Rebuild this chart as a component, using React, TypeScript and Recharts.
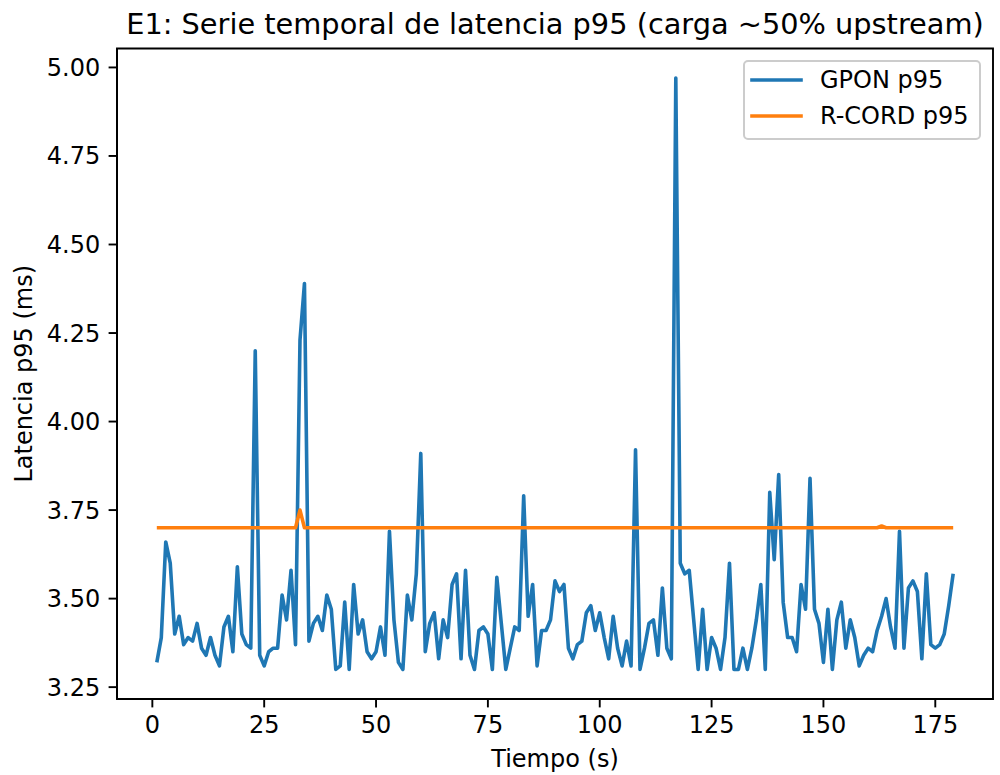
import React from 'react';
import { LineChart, Line, XAxis, YAxis, Legend, ReferenceArea } from 'recharts';

const TIME_S = [
  1, 2, 3, 4, 5, 6, 7, 8, 9, 10,
  11, 12, 13, 14, 15, 16, 17, 18, 19, 20,
  21, 22, 23, 24, 25, 26, 27, 28, 29, 30,
  31, 32, 33, 34, 35, 36, 37, 38, 39, 40,
  41, 42, 43, 44, 45, 46, 47, 48, 49, 50,
  51, 52, 53, 54, 55, 56, 57, 58, 59, 60,
  61, 62, 63, 64, 65, 66, 67, 68, 69, 70,
  71, 72, 73, 74, 75, 76, 77, 78, 79, 80,
  81, 82, 83, 84, 85, 86, 87, 88, 89, 90,
  91, 92, 93, 94, 95, 96, 97, 98, 99, 100,
  101, 102, 103, 104, 105, 106, 107, 108, 109, 110,
  111, 112, 113, 114, 115, 116, 117, 118, 119, 120,
  121, 122, 123, 124, 125, 126, 127, 128, 129, 130,
  131, 132, 133, 134, 135, 136, 137, 138, 139, 140,
  141, 142, 143, 144, 145, 146, 147, 148, 149, 150,
  151, 152, 153, 154, 155, 156, 157, 158, 159, 160,
  161, 162, 163, 164, 165, 166, 167, 168, 169, 170,
  171, 172, 173, 174, 175, 176, 177, 178, 179,
];

const GPON_P95 = [
  3.32, 3.39, 3.66, 3.60, 3.40, 3.45, 3.37, 3.39, 3.38, 3.43,
  3.36, 3.34, 3.39, 3.34, 3.31, 3.42, 3.45, 3.35, 3.59, 3.40,
  3.37, 3.36, 4.20, 3.34, 3.31, 3.35, 3.36, 3.36, 3.51, 3.44,
  3.58, 3.37, 4.23, 4.39, 3.38, 3.43, 3.45, 3.41, 3.51, 3.47,
  3.30, 3.31, 3.49, 3.30, 3.54, 3.40, 3.44, 3.35, 3.33, 3.35,
  3.42, 3.34, 3.69, 3.44, 3.32, 3.30, 3.51, 3.44, 3.57, 3.91,
  3.35, 3.43, 3.46, 3.33, 3.44, 3.39, 3.54, 3.57, 3.33, 3.58,
  3.34, 3.30, 3.41, 3.42, 3.40, 3.30, 3.56, 3.43, 3.30, 3.36,
  3.42, 3.41, 3.79, 3.45, 3.54, 3.31, 3.41, 3.41, 3.44, 3.55,
  3.52, 3.54, 3.36, 3.33, 3.37, 3.38, 3.46, 3.48, 3.41, 3.46,
  3.39, 3.33, 3.45, 3.36, 3.31, 3.38, 3.31, 3.92, 3.30, 3.36,
  3.43, 3.44, 3.34, 3.53, 3.36, 3.33, 4.97, 3.60, 3.57, 3.58,
  3.44, 3.30, 3.47, 3.30, 3.39, 3.36, 3.30, 3.39, 3.60, 3.30,
  3.30, 3.36, 3.30, 3.36, 3.44, 3.54, 3.30, 3.80, 3.61, 3.85,
  3.49, 3.39, 3.39, 3.35, 3.54, 3.47, 3.84, 3.47, 3.43, 3.32,
  3.47, 3.30, 3.44, 3.49, 3.36, 3.44, 3.39, 3.31, 3.34, 3.36,
  3.35, 3.41, 3.45, 3.50, 3.42, 3.36, 3.69, 3.36, 3.53, 3.55,
  3.52, 3.33, 3.57, 3.37, 3.36, 3.37, 3.40, 3.48, 3.57,
];

const RCORD_P95 = [
  3.70, 3.70, 3.70, 3.70, 3.70, 3.70, 3.70, 3.70, 3.70, 3.70,
  3.70, 3.70, 3.70, 3.70, 3.70, 3.70, 3.70, 3.70, 3.70, 3.70,
  3.70, 3.70, 3.70, 3.70, 3.70, 3.70, 3.70, 3.70, 3.70, 3.70,
  3.70, 3.70, 3.75, 3.70, 3.70, 3.70, 3.70, 3.70, 3.70, 3.70,
  3.70, 3.70, 3.70, 3.70, 3.70, 3.70, 3.70, 3.70, 3.70, 3.70,
  3.70, 3.70, 3.70, 3.70, 3.70, 3.70, 3.70, 3.70, 3.70, 3.70,
  3.70, 3.70, 3.70, 3.70, 3.70, 3.70, 3.70, 3.70, 3.70, 3.70,
  3.70, 3.70, 3.70, 3.70, 3.70, 3.70, 3.70, 3.70, 3.70, 3.70,
  3.70, 3.70, 3.70, 3.70, 3.70, 3.70, 3.70, 3.70, 3.70, 3.70,
  3.70, 3.70, 3.70, 3.70, 3.70, 3.70, 3.70, 3.70, 3.70, 3.70,
  3.70, 3.70, 3.70, 3.70, 3.70, 3.70, 3.70, 3.70, 3.70, 3.70,
  3.70, 3.70, 3.70, 3.70, 3.70, 3.70, 3.70, 3.70, 3.70, 3.70,
  3.70, 3.70, 3.70, 3.70, 3.70, 3.70, 3.70, 3.70, 3.70, 3.70,
  3.70, 3.70, 3.70, 3.70, 3.70, 3.70, 3.70, 3.70, 3.70, 3.70,
  3.70, 3.70, 3.70, 3.70, 3.70, 3.70, 3.70, 3.70, 3.70, 3.70,
  3.70, 3.70, 3.70, 3.70, 3.70, 3.70, 3.70, 3.70, 3.70, 3.70,
  3.70, 3.70, 3.705, 3.70, 3.70, 3.70, 3.70, 3.70, 3.70, 3.70,
  3.70, 3.70, 3.70, 3.70, 3.70, 3.70, 3.70, 3.70, 3.70,
];

const X_TICKS = [0, 25, 50, 75, 100, 125, 150, 175];
const Y_TICKS = [3.25, 3.5, 3.75, 4.0, 4.25, 4.5, 4.75, 5.0];
const X_DOMAIN = [-7.9, 187.9];
const Y_DOMAIN = [3.2165, 5.0535];

const TITLE = 'E1: Serie temporal de latencia p95 (carga ~50% upstream)';
const X_LABEL = 'Tiempo (s)';
const Y_LABEL = 'Latencia p95 (ms)';
const GPON_NAME = 'GPON p95';
const RCORD_NAME = 'R-CORD p95';

const FONT = '"DejaVu Sans", sans-serif';
const BLUE = '#1f77b4';
const ORANGE = '#ff7f0e';

const data = TIME_S.map((t, i) => ({ t, gpon: GPON_P95[i], rcord: RCORD_P95[i] }));

const renderLegend = (props: any) => {
  const items = props.payload || [];
  return (
    <div
      style={{
        position: 'relative',
        width: 238,
        height: 80,
        boxSizing: 'border-box',
        border: '2px solid #cccccc',
        borderRadius: 5,
        background: 'rgba(255,255,255,0.8)',
      }}
    >
      <svg width={238} height={80} style={{ position: 'absolute', left: -2, top: -2 }}>
        {items.map((it: any, i: number) => (
          <g key={i}>
            <line
              x1={9}
              x2={58}
              y1={20 + i * 36}
              y2={20 + i * 36}
              stroke={it.color}
              strokeWidth={3.6}
              strokeLinecap="square"
            />
            <text
              x={77}
              y={20 + i * 36}
              dominantBaseline="central"
              fontFamily={FONT}
              fontSize={24}
              fill="#000"
            >
              {it.value}
            </text>
          </g>
        ))}
      </svg>
    </div>
  );
};

const YLabel = (props: any) => {
  const vb = props.viewBox || { x: 0, y: 48.5, width: 117, height: 650.5 };
  const cx = 32;
  const cy = vb.y + vb.height / 2;
  return (
    <text
      x={cx}
      y={cy}
      transform={`rotate(-90 ${cx} ${cy})`}
      textAnchor="middle"
      fontFamily={FONT}
      fontSize={24}
      fill="#000"
    >
      {Y_LABEL}
    </text>
  );
};

const XLabel = (props: any) => {
  const vb = props.viewBox || { x: 117, y: 699, width: 876, height: 76 };
  return (
    <text
      x={vb.x + vb.width / 2}
      y={767}
      textAnchor="middle"
      fontFamily={FONT}
      fontSize={24}
      fill="#000"
    >
      {X_LABEL}
    </text>
  );
};

export default function App() {
  const tickStyle = { fontFamily: FONT, fontSize: 24, fill: '#000' };
  return (
    <div style={{ position: 'absolute', left: 0, top: 0, width: 1000, height: 775, background: '#fff' }}>
      <svg width={1000} height={45} style={{ position: 'absolute', left: 0, top: 0 }}>
        <text x={555} y={34} textAnchor="middle" fontFamily={FONT} fontSize={28.8} fill="#000">
          {TITLE}
        </text>
      </svg>
      <LineChart
        width={1000}
        height={775}
        data={data}
        margin={{ top: 48.5, right: 7, bottom: 0, left: 0 }}
        style={{ position: 'absolute', left: 0, top: 0 }}
      >
        <XAxis
          xAxisId="main"
          dataKey="t"
          type="number"
          domain={X_DOMAIN}
          ticks={X_TICKS}
          interval={0}
          allowDataOverflow
          height={76}
          tick={tickStyle}
          tickSize={8.4}
          tickMargin={8.4}
          axisLine={{ stroke: '#000', strokeWidth: 1.9 }}
          tickLine={{ stroke: '#000', strokeWidth: 1.9 }}
          label={<XLabel />}
        />
        <YAxis
          yAxisId="main"
          type="number"
          domain={Y_DOMAIN}
          ticks={Y_TICKS}
          interval={0}
          allowDataOverflow
          width={117}
          tick={tickStyle}
          tickSize={8.4}
          tickMargin={8.4}
          tickFormatter={(v: number) => v.toFixed(2)}
          axisLine={{ stroke: '#000', strokeWidth: 1.9 }}
          tickLine={{ stroke: '#000', strokeWidth: 1.9 }}
          label={<YLabel />}
        />
        <ReferenceArea
          xAxisId="main"
          yAxisId="main"
          x1={X_DOMAIN[0]}
          x2={X_DOMAIN[1]}
          y1={Y_DOMAIN[0]}
          y2={Y_DOMAIN[1]}
          fill="none"
          fillOpacity={0}
          stroke="#000"
          strokeWidth={1.9}
          strokeOpacity={1}
          ifOverflow="visible"
        />
        <Legend
          layout="horizontal"
          verticalAlign="middle"
          align="center"
          content={renderLegend}
          wrapperStyle={{ position: 'absolute', left: 743, top: 60, width: 238, height: 80 }}
        />
        <Line
          xAxisId="main"
          yAxisId="main"
          type="linear"
          dataKey="gpon"
          name={GPON_NAME}
          stroke={BLUE}
          strokeWidth={3.6}
          strokeLinejoin="round"
          dot={false}
          activeDot={false}
          isAnimationActive={false}
        />
        <Line
          xAxisId="main"
          yAxisId="main"
          type="linear"
          dataKey="rcord"
          name={RCORD_NAME}
          stroke={ORANGE}
          strokeWidth={3.6}
          strokeLinejoin="round"
          dot={false}
          activeDot={false}
          isAnimationActive={false}
        />
      </LineChart>
    </div>
  );
}
